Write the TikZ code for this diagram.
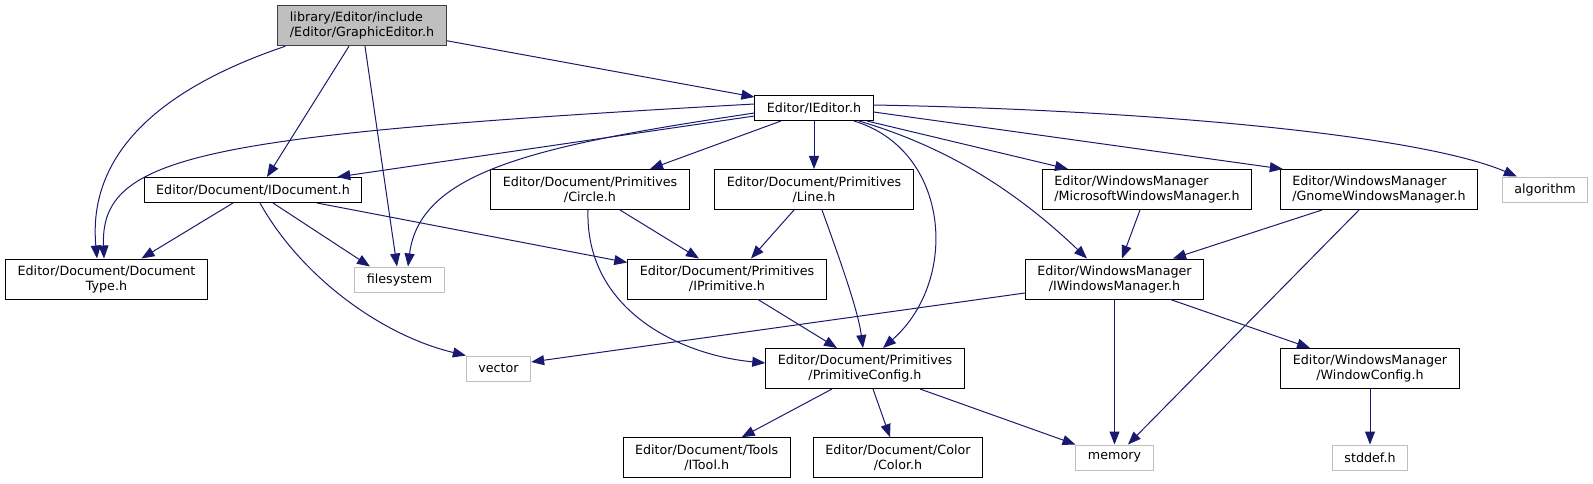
\documentclass[tikz,border=0pt]{standalone}
\usepackage{fontspec}
\setmainfont{DejaVu Sans}
\usetikzlibrary{arrows.meta}
\definecolor{edgeblue}{HTML}{191970}
\definecolor{rootfill}{HTML}{BFBFBF}
\definecolor{sysgray}{HTML}{BFBFBF}

\begin{document}
\begin{tikzpicture}[x=1pt, y=-1pt,
  every node/.style={font=\fontsize{12.7}{15}\selectfont},
  hdr/.style={rectangle, draw=black, fill=white, line width=1pt, align=center,
              inner xsep=12pt, inner ysep=2pt, minimum height=25pt},
  hdrtwo/.style={hdr, minimum height=40pt},
  sys/.style={hdr, draw=sysgray},
  root/.style={hdrtwo, fill=rootfill, draw=black!75},
  dep/.style={-{Triangle[length=13pt, width=10pt]}, edgeblue, line width=1pt},
]
\useasboundingbox (0,0) rectangle (1593,484);

%% Root file
\node[root, align=left] (ge) at (362,25.7) {library/Editor/include\\/Editor/GraphicEditor.h};

%% Rank 1
\node[hdr] (ied) at (814,108) {Editor/IEditor.h};

%% Rank 2
\node[hdr]    (idoc)   at (253,190)    {Editor/Document/IDocument.h};
\node[hdrtwo] (circle) at (590,189.5)  {Editor/Document/Primitives\\/Circle.h};
\node[hdrtwo] (line)   at (814,189.5)  {Editor/Document/Primitives\\/Line.h};
\node[hdrtwo, align=left] (mswm) at (1147,189.5) {Editor/WindowsManager\\/MicrosoftWindowsManager.h};
\node[hdrtwo, align=left] (gnwm) at (1379,189.5) {Editor/WindowsManager\\/GnomeWindowsManager.h};
\node[sys]    (algo)   at (1545,189.5) {algorithm};

%% Rank 3
\node[hdrtwo] (doctype) at (106.5,279)  {Editor/Document/Document\\Type.h};
\node[sys]    (fs)      at (399.5,279.5) {filesystem};
\node[hdrtwo] (iprim)   at (727,279)    {Editor/Document/Primitives\\/IPrimitive.h};
\node[hdrtwo] (iwm)     at (1114.5,279) {Editor/WindowsManager\\/IWindowsManager.h};

%% Rank 4
\node[sys]    (vect)    at (498.5,368.5) {vector};
\node[hdrtwo] (primcfg) at (865,368.5)   {Editor/Document/Primitives\\/PrimitiveConfig.h};
\node[hdrtwo] (wincfg)  at (1370,368.5)  {Editor/WindowsManager\\/WindowConfig.h};

%% Rank 5
\node[hdrtwo] (itool)  at (706.7,457.7) {Editor/Document/Tools\\/ITool.h};
\node[hdrtwo] (color)  at (898,457.7)   {Editor/Document/Color\\/Color.h};
\node[sys]    (mem)    at (1114.5,457.5) {memory};
\node[sys]    (stddef) at (1370,457.5)   {stddef.h};

%% Includes of GraphicEditor.h
\draw[dep] ([yshift=-15pt]ge.east) -- ([yshift=-2pt]ied.north west);
\draw[dep] ([xshift=-13pt]ge.south) -- ([xshift=14pt]idoc.north);
\draw[dep] ([xshift=3pt]ge.south) -- ([xshift=-2.5pt]fs.north);
\draw[dep] ([xshift=8pt]ge.south west) .. controls (150,92) and (88,160) .. ([xshift=-9.5pt]doctype.north);

%% Includes of IEditor.h
\draw[dep] ([yshift=4pt]ied.west) .. controls (200,135) and (100,155) .. ([xshift=-2.5pt]doctype.north);
\draw[dep] ([yshift=-8pt]ied.west) -- ([xshift=-25pt]idoc.north east);
\draw[dep] ([yshift=-5pt]ied.west) .. controls (540,145) and (420,170) .. ([xshift=8.5pt]fs.north);
\draw[dep] ([xshift=-33pt]ied.south) -- ([xshift=60pt]circle.north);
\draw[dep] (ied.south) -- (line.north);
\draw[dep] ([xshift=40pt]ied.south) .. controls (950,150) and (960,280) .. ([xshift=18pt]primcfg.north);
\draw[dep] ([xshift=45pt]ied.south) .. controls (940,145) and (1010,185) .. ([xshift=-27.5pt]iwm.north);
\draw[dep] ([xshift=53pt]ied.south) -- ([xshift=-79pt]mswm.north);
\draw[dep] ([yshift=-4pt]ied.east) -- ([xshift=3pt]gnwm.north west);
\draw[dep] ([yshift=3pt]ied.east) .. controls (1150,110) and (1420,135) .. ([xshift=15pt]algo.north west);

%% Includes of IDocument.h
\draw[dep] ([xshift=-20pt]idoc.south) -- ([xshift=35pt]doctype.north);
\draw[dep] ([xshift=20pt]idoc.south) -- ([xshift=-29.5pt]fs.north);
\draw[dep] ([xshift=64pt]idoc.south) -- ([yshift=-4pt]iprim.north west);
\draw[dep] ([xshift=7pt]idoc.south) .. controls (300,275) and (380,335) .. (vect.north west);

%% Primitives
\draw[dep] ([xshift=30pt]circle.south) -- ([xshift=-28pt]iprim.north);
\draw[dep] ([xshift=-2pt]circle.south) .. controls (585,310) and (680,355) .. ([yshift=5.5pt]primcfg.west);
\draw[dep] ([xshift=-20pt]line.south) -- ([xshift=24pt]iprim.north);
\draw[dep] ([xshift=8pt]line.south) .. controls (840,260) and (858,310) .. ([xshift=-2pt]primcfg.north);
\draw[dep] ([xshift=31pt]iprim.south) -- ([xshift=-28pt]primcfg.north);

%% Windows managers
\draw[dep] ([xshift=-7pt]mswm.south) -- ([xshift=7.5pt]iwm.north);
\draw[dep] ([xshift=-57pt]gnwm.south) -- ([xshift=58.5pt]iwm.north);
\draw[dep] ([xshift=-20pt]gnwm.south) -- ([xshift=13.5pt]mem.north);
\draw[dep] ([yshift=-14pt]iwm.west) -- ([yshift=6.5pt]vect.east);
\draw[dep] (iwm.south) -- (mem.north);
\draw[dep] ([xshift=56pt]iwm.south) -- ([xshift=-60pt]wincfg.north);
\draw[dep] (wincfg.south) -- (stddef.north);

%% PrimitiveConfig.h
\draw[dep] ([xshift=-33pt]primcfg.south) -- ([xshift=35pt]itool.north);
\draw[dep] ([xshift=8pt]primcfg.south) -- ([xshift=-8pt]color.north);
\draw[dep] ([xshift=55pt]primcfg.south) -- (mem.north west);

\end{tikzpicture}
\end{document}
